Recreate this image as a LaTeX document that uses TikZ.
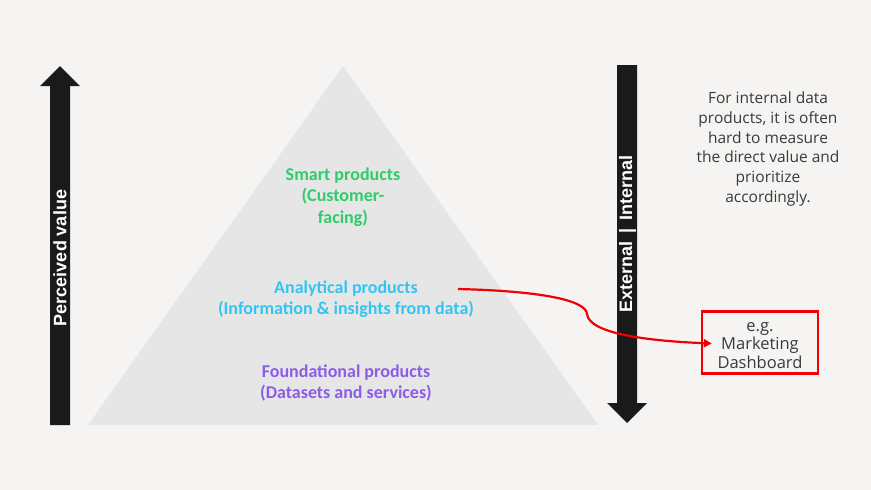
\documentclass[tikz,border=0pt]{standalone}
\usepackage{fontspec}
\setmainfont{Liberation Sans}
\newfontfamily\calfont{Carlito}
\newfontfamily\osans{Open Sans}
\usetikzlibrary{arrows.meta}
\definecolor{bg}{HTML}{F5F4F2}
\definecolor{pyr}{HTML}{E6E6E6}
\definecolor{arr}{HTML}{1A1A1A}
\definecolor{smartc}{HTML}{2ECC6A}
\definecolor{analc}{HTML}{33C4F2}
\definecolor{foundc}{HTML}{8B5CE8}
\definecolor{txt}{HTML}{3A3A3A}
\definecolor{redc}{HTML}{F00000}
\tikzset{
  pyrtext/.style={font=\calfont\bfseries\fontsize{18}{21.5}\selectfont, align=center},
  arrowlabel/.style={font=\bfseries\fontsize{18}{20}\selectfont, text=white, rotate=90},
  note/.style={font=\osans\fontsize{15.5}{19.8}\selectfont, text=txt, align=center},
  boxtext/.style={font=\osans\fontsize{16.5}{18.5}\selectfont, text=txt, align=center},
}
\begin{document}
\begin{tikzpicture}[x=1pt,y=-1pt]
\fill[bg] (0,0) rectangle (871,490);
\useasboundingbox (0,0) rectangle (871,490);
% pyramid
\fill[pyr] (343,66) -- (598,425) -- (88,425) -- cycle;
% left arrow
\fill[arr] (50,425) -- (50,86) -- (40,86) -- (60,66) -- (80,86) -- (70,86) -- (70,425) -- cycle;
\node[arrowlabel] (pv) at (60,258) {Perceived value};
% right arrow
\fill[arr] (617,65) -- (637,65) -- (637,403) -- (647,403) -- (627,423) -- (607,403) -- (617,403) -- cycle;
\node[arrowlabel] (ei) at (627.5,234) {External \,|\, Internal};
% pyramid texts
\node[pyrtext, text=smartc] (smart) at (343,197) {Smart products\\(Customer-\\facing)};
\node[pyrtext, text=analc] (anal) at (346,299) {Analytical products\\(Information \& insights from data)};
\node[pyrtext, text=foundc] (found) at (346,383) {Foundational products\\(Datasets and services)};
% note
\node[note] (note) at (768,149) {For internal data\\products, it is often\\hard to measure\\the direct value and\\prioritize\\accordingly.};
% box
\node[draw=redc, line width=2.4pt, minimum width=116pt, minimum height=62pt, inner sep=0pt] (box) at (760,342.5) {};
\node[boxtext, inner sep=0pt] (boxlabel) at ([yshift=-3pt]box.center) {e.g.\\Marketing\\Dashboard};
% connector
\coordinate (start) at (458,289);
\coordinate (tip) at ([xshift=11pt,yshift=-1pt]box.west);
\draw[redc, line width=2.2pt, -{Triangle[length=8pt,width=8pt]}] (start) .. controls (540,291) and (586,300) .. (587,314) .. controls (589,334) and (650,341) .. (tip);
\end{tikzpicture}
\end{document}
